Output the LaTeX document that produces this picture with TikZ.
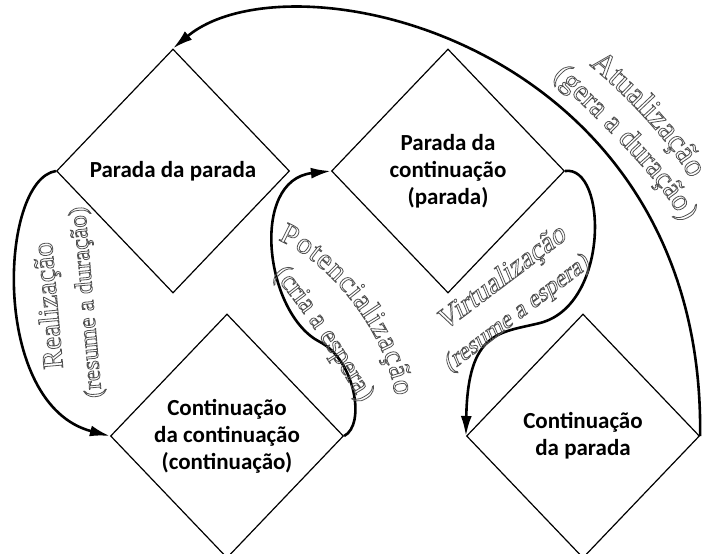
\documentclass[tikz,border=0pt]{standalone}
\usepackage{fontspec}
\usetikzlibrary{shapes.geometric,arrows.meta,decorations.text}

\newfontfamily\boxfont{Carlito}
\newfontfamily\lblfont{Liberation Serif}
\newcommand{\hollow}[1]{\special{pdf:literal direct 1 Tr 0.8 w 0.32 G}#1\special{pdf:literal direct 0 Tr 0 G}}

\begin{document}
\begin{tikzpicture}[x=1pt, y=-1pt,
    stage/.style={diamond, draw, line width=1.2pt, minimum width=233pt,
      minimum height=244pt, inner sep=-10pt, align=center,
      font=\boxfont\bfseries\fontsize{23}{27}\selectfont},
    flow/.style={line width=2.6pt, -{Latex[length=20pt,width=11pt]}},
    tag/.style={align=center, font=\lblfont\fontsize{29}{36}\selectfont},
    curvetag/.style 2 args={decorate,
      decoration={text effects along path, text={#2},
        text effects/.cd, text along path, fit text to path,
        characters={font=\lblfont\fontsize{#1}{33}\selectfont},
        character widths={font=\lblfont\fontsize{#1}{33}\selectfont},
        character command=\hollow}}]
  \useasboundingbox (0,0) rectangle (704,554);

  \node[stage] (parpar) at (173,171) {Parada da parada};
  \node[stage] (parcont) at (448,171) {Parada da\\continuação\\(parada)};
  \node[stage] (contcont) at (227,436) {Continuação\\da continuação\\(continuação)};
  \node[stage] (contpar) at (583,436) {Continuação\\da parada};

  \coordinate (potbend) at (320,342);
  \coordinate (virtbend) at (540,323);

  \draw[flow] (parpar.west) .. controls +(-57,9) and +(-120,-31) .. (contcont.west);
  \draw[flow] (contcont.east) .. controls +(22,-11) and +(35,18) .. (potbend)
    .. controls +(-55,-28) and +(-82,9) .. (parcont.west);
  \draw[flow] (parcont.east) .. controls +(42,-6) and +(70,-18) .. (virtbend)
    .. controls +(-40,10) and +(2,-106) .. (contpar.west);
  \draw[flow] (contpar.east) .. controls +(5,-396) and +(117,-98) .. (parpar.north);

  \node[tag, rotate=95] (reallbl) at (68,304)
    {\hollow{Realização}\\\hollow{\fontsize{25}{36}\selectfont(resume a duração)}};
  \node[tag, rotate=37, xslant=0.25] (virtlbl) at (510,295)
    {\hollow{Virtualização}\\\hollow{\fontsize{25}{36}\selectfont(resume a espera)}};

  \path[curvetag={30}{Potencialização}] (278,240) .. controls (334,264) and (388,338) .. (395,396);
  \path[curvetag={28}{(cria a espera)}] (273,275) .. controls (303,308) and (338,364) .. (361,403);
  \path[curvetag={32}{Atualização}] (589,65) .. controls (621,90) and (673,144) .. (690,179);
  \path[curvetag={30}{(gera a duração)}] (553,76) .. controls (588,111) and (662,178) .. (682,222);
\end{tikzpicture}
\end{document}
